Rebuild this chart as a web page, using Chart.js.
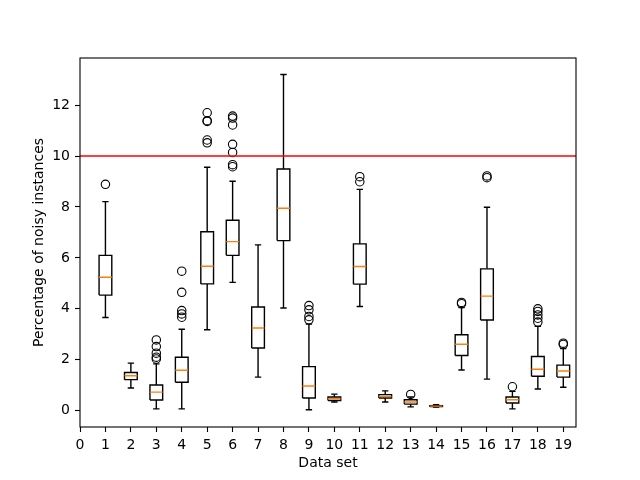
<!DOCTYPE html>
<html>
<head>
<meta charset="utf-8">
<script src="https://cdn.jsdelivr.net/npm/chart.js@4.4.0/dist/chart.umd.min.js"></script>
<style>
  html, body { margin: 0; padding: 0; background: #fff; }
  #wrap { width: 640px; height: 480px; }
</style>
</head>
<body>
<div id="wrap"><canvas id="myChart"></canvas></div>
<script>
// box statistics per data set
var positions = [1, 2, 3, 4, 5, 6, 7, 8, 9, 10, 11, 12, 13, 14, 15, 16, 17, 18, 19];
var whiskLow  = [3.66, 0.89, 0.07, 0.07, 3.18, 5.04, 1.32, 4.03, 0.04, 0.34, 4.09, 0.34, 0.15, 0.14, 1.60, 1.24, 0.07, 0.85, 0.92];
var q1        = [4.54, 1.22, 0.42, 1.12, 4.98, 6.10, 2.46, 6.68, 0.50, 0.40, 4.97, 0.50, 0.26, 0.16, 2.17, 3.56, 0.30, 1.35, 1.32];
var medians   = [5.24, 1.37, 0.73, 1.59, 5.67, 6.64, 3.25, 7.95, 0.97, 0.47, 5.66, 0.56, 0.34, 0.18, 2.61, 4.50, 0.43, 1.63, 1.56];
var q3        = [6.10, 1.50, 1.01, 2.10, 7.03, 7.48, 4.07, 9.49, 1.73, 0.54, 6.55, 0.63, 0.43, 0.20, 2.98, 5.57, 0.54, 2.13, 1.79];
var whiskHigh = [8.21, 1.87, 1.84, 3.20, 9.56, 9.01, 6.51, 13.20, 3.40, 0.65, 8.69, 0.78, 0.54, 0.24, 4.05, 7.99, 0.76, 3.31, 2.44];
var outliers  = [
  [8.89],
  [],
  [2.03, 2.10, 2.26, 2.52, 2.78],
  [3.67, 3.80, 3.93, 4.65, 5.48],
  [10.52, 10.63, 11.36, 11.39, 11.70],
  [9.58, 9.66, 10.14, 10.46, 11.22, 11.49, 11.57],
  [],
  [],
  [3.57, 3.70, 3.96, 4.13],
  [],
  [8.99, 9.19],
  [],
  [0.64],
  [],
  [4.20, 4.25],
  [9.15, 9.22],
  [0.94],
  [3.48, 3.63, 3.76, 3.90, 4.00],
  [2.60, 2.65]
];
var threshold = 10;
var xTicks = [0, 1, 2, 3, 4, 5, 6, 7, 8, 9, 10, 11, 12, 13, 14, 15, 16, 17, 18, 19];
var yTicks = [0, 2, 4, 6, 8, 10, 12];

var halfBox = 0.25, halfCap = 0.125;
var boxPts = [], whiskPts = [], capPts = [], medPts = [], outPts = [];
positions.forEach(function (p, i) {
  boxPts.push({x: p - halfBox, y: q1[i]}, {x: p + halfBox, y: q1[i]}, {x: p + halfBox, y: q3[i]},
              {x: p - halfBox, y: q3[i]}, {x: p - halfBox, y: q1[i]}, {x: p, y: null});
  whiskPts.push({x: p, y: whiskLow[i]}, {x: p, y: q1[i]}, {x: p, y: null},
                {x: p, y: q3[i]}, {x: p, y: whiskHigh[i]}, {x: p, y: null});
  capPts.push({x: p - halfCap, y: whiskLow[i]}, {x: p + halfCap, y: whiskLow[i]}, {x: p, y: null},
              {x: p - halfCap, y: whiskHigh[i]}, {x: p + halfCap, y: whiskHigh[i]}, {x: p, y: null});
  medPts.push({x: p - halfBox, y: medians[i]}, {x: p + halfBox, y: medians[i]}, {x: p, y: null});
  outliers[i].forEach(function (v) { outPts.push({x: p, y: v}); });
});

var FONT = 'DejaVu Sans';
Chart.defaults.color = '#000';
Chart.defaults.font.family = FONT;
Chart.defaults.font.size = 14;

// draw all four spines like matplotlib
var frame = {
  id: 'frame',
  afterDatasetsDraw: function (chart) {
    var a = chart.chartArea, c = chart.ctx;
    c.save();
    c.strokeStyle = '#000';
    c.lineWidth = 1.1;
    c.strokeRect(a.left, a.top, a.right - a.left, a.bottom - a.top);
    c.restore();
  }
};

function lineSet(data, color, width) {
  return {data: data, showLine: true, spanGaps: false, borderColor: color, borderWidth: width,
          pointRadius: 0, pointHoverRadius: 0, fill: false};
}

new Chart(document.getElementById('myChart').getContext('2d'), {
  type: 'scatter',
  data: {
    datasets: [
      lineSet([{x: 0, y: threshold}, {x: 19.5, y: threshold}], '#ff0000', 1.5),
      {
        data: outPts,
        pointStyle: 'circle',
        pointRadius: 4.2,
        pointBorderWidth: 1.1,
        pointBorderColor: '#000',
        pointBackgroundColor: 'rgba(0,0,0,0)'
      },
      lineSet(medPts, '#ff7f0e', 1.4),
      lineSet(boxPts, '#000', 1.4),
      lineSet(whiskPts, '#000', 1.4),
      lineSet(capPts, '#000', 1.4)
    ]
  },
  options: {
    responsive: true,
    maintainAspectRatio: false,
    animation: false,
    layout: {padding: {left: 27, right: 64, top: 58, bottom: 4}},
    plugins: {legend: {display: false}, tooltip: {enabled: false}},
    scales: {
      x: {
        type: 'linear',
        min: 0,
        max: 19.5,
        afterFit: function (s) { s.height = 49; },
        afterBuildTicks: function (s) { s.ticks = xTicks.map(function (v) { return {value: v}; }); },
        ticks: {padding: 5, maxRotation: 0, autoSkip: false},
        grid: {drawOnChartArea: false, drawTicks: true, tickLength: 5, tickWidth: 1.1, tickColor: '#000'},
        border: {display: false},
        title: {display: true, text: 'Data set', font: {size: 14}, padding: {top: 4, bottom: 4}}
      },
      y: {
        type: 'linear',
        min: -0.64,
        max: 13.85,
        afterFit: function (s) { s.width = 53; },
        afterBuildTicks: function (s) { s.ticks = yTicks.map(function (v) { return {value: v}; }); },
        ticks: {padding: 5},
        grid: {drawOnChartArea: false, drawTicks: true, tickLength: 5, tickWidth: 1.1, tickColor: '#000'},
        border: {display: false},
        title: {display: true, text: 'Percentage of noisy instances', font: {size: 14}, padding: {top: 4, bottom: 4}}
      }
    }
  },
  plugins: [frame]
});
</script>
</body>
</html>
